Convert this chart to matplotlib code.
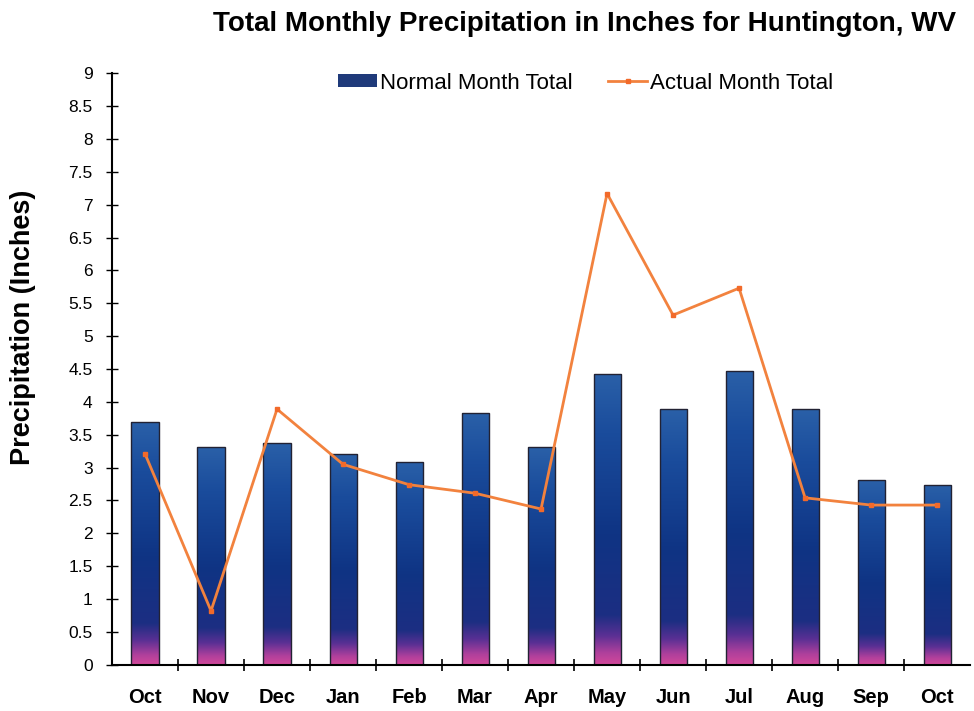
import numpy as np
import matplotlib.pyplot as plt
from matplotlib.colors import LinearSegmentedColormap
from matplotlib.patches import Patch, Rectangle

plt.rcParams['font.family'] = ['Liberation Sans', 'DejaVu Sans']

# monthly totals, inches
months = ['Oct', 'Nov', 'Dec', 'Jan', 'Feb', 'Mar', 'Apr',
          'May', 'Jun', 'Jul', 'Aug', 'Sep', 'Oct']
normal_total = [3.69, 3.31, 3.37, 3.20, 3.08, 3.83, 3.31,
                4.42, 3.89, 4.47, 3.89, 2.81, 2.74]
actual_total = [3.21, 0.82, 3.89, 3.05, 2.74, 2.61, 2.37,
                7.17, 5.32, 5.73, 2.54, 2.43, 2.43]
y_ticks = np.arange(0, 9.01, 0.5)

fig = plt.figure(figsize=(9.74, 7.11), dpi=100)
ax = fig.add_axes([0.115, 0.065, 0.881, 0.832])

x = np.arange(len(months))
bars = ax.bar(x, normal_total, width=0.41, color='none',
              edgecolor='none', linewidth=0, zorder=2)

# vertical gradient: magenta at the base, navy body, lighter blue top
cmap = LinearSegmentedColormap.from_list('bar_grad', [
    (0.0, '#d2489a'), (0.04, '#b0409c'), (0.1, '#5a3094'),
    (0.17, '#1c2e82'), (0.45, '#0f3484'), (0.8, '#1a4c9c'), (1.0, '#2a60a8')])
grad = np.linspace(0, 1, 256).reshape(-1, 1)
for b in bars:
    bx, w, h = b.get_x(), b.get_width(), b.get_height()
    im = ax.imshow(grad, cmap=cmap, origin='lower', aspect='auto',
                   extent=[bx, bx + w, 0, h], zorder=2)
    im.set_clip_path(b)
    ax.add_patch(Rectangle((bx, 0), w, h, facecolor='none',
                           edgecolor='#222233', linewidth=1.0, zorder=2.5))

line, = ax.plot(x, actual_total, color='#f2823e', linewidth=2.0,
                marker='s', markersize=3.5, markerfacecolor='#f26a2a',
                markeredgecolor='#f26a2a', zorder=3)

ax.set_xlim(-0.5, len(months) - 0.5)
ax.set_ylim(0, 9)
ax.set_yticks(y_ticks)
ax.set_yticklabels([f'{v:g}' for v in y_ticks], fontsize=12.5)
ax.set_xticks(x)
ax.set_xticklabels(months, fontsize=14.5, fontweight='bold')
ax.tick_params(axis='x', length=0, pad=17)
ax.set_xticks(np.arange(0.5, len(months) - 0.5), minor=True)
ax.tick_params(axis='x', which='minor', length=9, direction='inout', width=1.2)
ax.tick_params(axis='y', length=8, direction='inout', width=1.0, pad=10)

for side in ['top', 'right']:
    ax.spines[side].set_visible(False)
ax.spines['left'].set_linewidth(1.5)
ax.spines['bottom'].set_linewidth(1.5)

ax.set_ylabel('Precipitation (Inches)', fontsize=19.5, fontweight='bold')
ax.yaxis.set_label_coords(-0.088, 0.571)

fig.text(0.6, 0.966, 'Total Monthly Precipitation in Inches for Huntington, WV',
         ha='center', va='center', fontsize=20, fontweight='bold')

leg = ax.legend([Patch(facecolor='#1f3a7a', edgecolor='none'), line],
                ['Normal Month Total', 'Actual Month Total'],
                loc='upper center', bbox_to_anchor=(0.552, 1.035), ncol=2,
                frameon=False, fontsize=16, handlelength=1.75, handleheight=0.55,
                handletextpad=0.15, columnspacing=1.6)

fig.savefig('out.png', dpi=100)
